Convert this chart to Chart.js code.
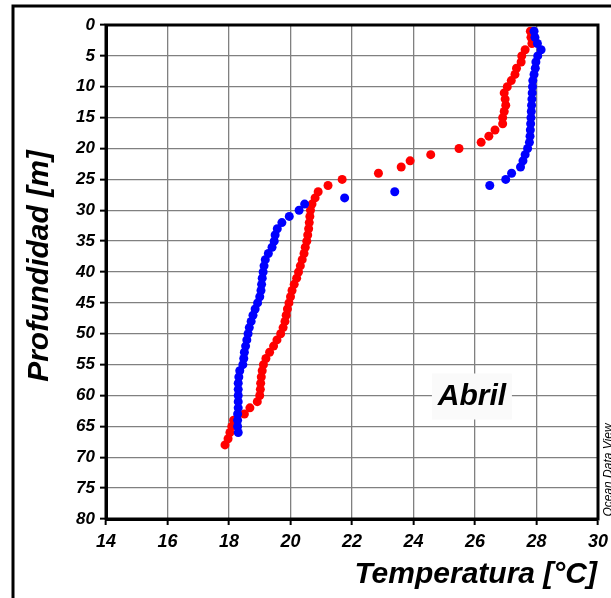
<!DOCTYPE html>
<html>
<head>
<meta charset="utf-8">
<script src="https://cdn.jsdelivr.net/npm/chart.js@4"></script>
<style>
  html, body { margin: 0; padding: 0; background: #fff; }
  #wrap { width: 611px; height: 598px; }
</style>
</head>
<body>
<div id="wrap"><canvas id="chart" width="611" height="598"></canvas></div>
<script>
// depth (m) and temperature (°C) read from the profile
const redDepth = [];
for (let d = 1; d <= 68; d++) redDepth.push(d);
const redTemp = [
  27.80, 27.82, 27.85, 27.63, 27.52, 27.50, 27.35, 27.30, 27.18, 27.05,
  26.95, 26.98, 27.00, 26.95, 26.90, 26.90, 26.65, 26.45, 26.20, 25.48,
  24.56, 23.89, 23.60, 22.86, 21.68, 21.22, 20.90, 20.80, 20.70, 20.65,
  20.63, 20.61, 20.59, 20.56, 20.53, 20.48, 20.44, 20.38, 20.32, 20.26,
  20.20, 20.12, 20.05, 20.00, 19.95, 19.90, 19.86, 19.82, 19.76, 19.68,
  19.56, 19.45, 19.32, 19.20, 19.12, 19.08, 19.05, 19.03, 19.02, 19.00,
  18.92, 18.68, 18.50, 18.15, 18.09, 18.03, 17.97, 17.87
];

const blueDepth = [];
for (let d = 1; d <= 66; d++) blueDepth.push(d);
const blueTemp = [
  27.92, 27.95, 28.03, 28.15, 28.04, 27.98, 27.96, 27.92, 27.88, 27.87,
  27.86, 27.85, 27.84, 27.83, 27.82, 27.81, 27.80, 27.79, 27.77, 27.71,
  27.63, 27.56, 27.48, 27.19, 27.00, 26.48, 23.39, 21.76, 20.46, 20.28,
  19.96, 19.72, 19.57, 19.50, 19.47, 19.40, 19.28, 19.18, 19.14, 19.11,
  19.08, 19.06, 19.04, 19.00, 18.93, 18.85, 18.78, 18.72, 18.66, 18.62,
  18.58, 18.54, 18.50, 18.48, 18.45, 18.35, 18.32, 18.30, 18.30, 18.30,
  18.30, 18.30, 18.28, 18.28, 18.28, 18.30
];

const FONT = '"Liberation Sans", Arial, sans-serif';

function toPoints(temps, depths) {
  return temps.map((t, i) => ({ x: t, y: depths[i] }));
}

const decor = {
  id: 'decor',
  beforeDraw(chart) {
    const ctx = chart.ctx;
    ctx.save();
    ctx.fillStyle = '#fff';
    ctx.fillRect(0, 0, chart.width, chart.height);
    ctx.restore();
  },
  beforeDatasetsDraw(chart) {
    const ctx = chart.ctx;
    const a = chart.chartArea;
    const xs = chart.scales.x, ys = chart.scales.y;
    ctx.save();
    // label box
    const lx = xs.getPixelForValue(25.9), ly = ys.getPixelForValue(60);
    ctx.fillStyle = '#fafafa';
    ctx.fillRect(lx - 40, ly - 22, 80, 46);
    ctx.fillStyle = '#000';
    ctx.font = 'italic bold 30px ' + FONT;
    ctx.textAlign = 'center';
    ctx.textBaseline = 'middle';
    ctx.fillText('Abril', lx, ly + 1);

    // plot frame
    ctx.strokeStyle = '#000';
    ctx.lineWidth = 3;
    ctx.strokeRect(a.left, a.top, a.right - a.left, a.bottom - a.top);

    // outer frame (top and left edges)
    ctx.beginPath();
    ctx.moveTo(13, chart.height);
    ctx.lineTo(13, 6);
    ctx.lineTo(chart.width, 6);
    ctx.stroke();

    // axis titles
    ctx.font = 'italic bold 30px ' + FONT;
    ctx.textAlign = 'right';
    ctx.textBaseline = 'alphabetic';
    ctx.fillText('Temperatura [°C]', 597, 583);

    ctx.save();
    ctx.translate(40, 266);
    ctx.rotate(-Math.PI / 2);
    ctx.textAlign = 'center';
    ctx.textBaseline = 'middle';
    ctx.fillText('Profundidad [m]', 0, 0);
    ctx.restore();

    ctx.save();
    ctx.translate(609, 470);
    ctx.rotate(-Math.PI / 2);
    ctx.font = 'italic 12px ' + FONT;
    ctx.textAlign = 'center';
    ctx.textBaseline = 'middle';
    ctx.fillText('Ocean Data View', 0, 0);
    ctx.restore();
    ctx.restore();
  }
};

new Chart(document.getElementById('chart'), {
  type: 'scatter',
  data: {
    datasets: [
      {
        label: 'Azul',
        data: toPoints(blueTemp, blueDepth),
        backgroundColor: '#0000ff',
        borderWidth: 0,
        pointRadius: 4.5
      },
      {
        label: 'Rojo',
        data: toPoints(redTemp, redDepth),
        backgroundColor: '#ff0000',
        borderWidth: 0,
        pointRadius: 4.5
      }
    ]
  },
  options: {
    responsive: false,
    animation: false,
    layout: { padding: { top: 25, right: 13, left: 0, bottom: 0 } },
    plugins: {
      legend: { display: false },
      tooltip: { enabled: false }
    },
    scales: {
      x: {
        type: 'linear',
        min: 14,
        max: 30,
        afterFit(scale) {
          scale.height = 79;
          scale.paddingLeft = 0;
          scale.paddingRight = 0;
        },
        ticks: {
          stepSize: 2,
          padding: 6,
          color: '#000',
          font: { family: FONT, size: 18, style: 'italic', weight: 'bold' }
        },
        grid: { color: '#808080', lineWidth: 1.3, tickColor: '#000', tickLength: 6, tickWidth: 2 },
        border: { color: '#000', width: 3 }
      },
      y: {
        type: 'linear',
        min: 0,
        max: 80,
        reverse: true,
        afterFit(scale) {
          scale.width = 106;
          scale.paddingTop = 0;
          scale.paddingBottom = 0;
        },
        ticks: {
          stepSize: 5,
          padding: 5,
          color: '#000',
          font: { family: FONT, size: 17, style: 'italic', weight: 'bold' }
        },
        grid: { color: '#808080', lineWidth: 1.3, tickColor: '#000', tickLength: 6, tickWidth: 2 },
        border: { color: '#000', width: 3 }
      }
    }
  },
  plugins: [decor]
});
</script>
</body>
</html>
